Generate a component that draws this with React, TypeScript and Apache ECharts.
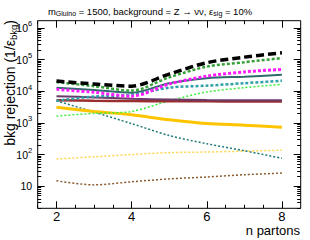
import React, { useEffect, useRef } from "react";
import * as echarts from "echarts";

const nPartons = [2, 3, 4, 5, 6, 7, 8];

const blackDashed = [2.1e4, 1.7e4, 1.45e4, 3.5e4, 8e4, 1.2e5, 1.65e5];
const greenDashed = [1.95e4, 1.45e4, 1.05e4, 2.75e4, 6e4, 8.3e4, 1.12e5];
const magentaDashed = [1.15e4, 9.3e3, 7e3, 1.7e4, 3e4, 4.1e4, 4.9e4];
const tealSolid = [1.3e4, 1.1e4, 9e3, 1.8e4, 2.6e4, 2.9e4, 3.3e4];
const tealDashed = [5e3, 6.8e3, 7.8e3, 1.3e4, 1.5e4, 1.8e4, 2.15e4];
const purpleSolid = [7e3, 6.4e3, 5.8e3, 5.5e3, 5.3e3, 5.2e3, 5.2e3];
const redSolid = [5.2e3, 5e3, 4.9e3, 4.8e3, 4.8e3, 4.75e3, 4.75e3];
const lightGreenDotted = [1.65e3, 2e3, 2.3e3, 5e3, 9.5e3, 1.3e4, 1.65e4];
const yellowSolid = [3.1e3, 2.3e3, 1.8e3, 1.25e3, 950, 850, 730];
const tealDotted = [5e3, 2.2e3, 950, 400, 220, 132, 76];
const yellowDotted = [72, 85, 100, 115, 120, 128, 137];
const brownDotted = [14.8, 11, 13.8, 17, 19.5, 23, 26];

const xMajorTicks = [2, 4, 6, 8];
const xMinorTicks = [1.5, 2.5, 3, 3.5, 4.5, 5, 5.5, 6.5, 7, 7.5];
const yMajorTicks = [10, 100, 1e3, 1e4, 1e5, 1e6];
const yMajorExponents = [1, 2, 3, 4, 5, 6];
const yMinorTicks: number[] = [];
[1, 10, 100, 1e3, 1e4, 1e5, 1e6].forEach((d) => {
  [2, 3, 4, 5, 6, 7, 8, 9].forEach((m) => yMinorTicks.push(d * m));
});

const X_MIN = 1.5;
const X_MAX = 8.5;
const Y_MIN = 2;
const Y_MAX = 1.7e6;

const FONT = "Liberation Sans, Arial, sans-serif";

export default function App() {
  const ref = useRef<HTMLDivElement>(null);
  useEffect(() => {
    if (!ref.current) return;
    const chart = echarts.init(ref.current, undefined, { renderer: "svg" });

    const mk = (
      data: number[],
      color: string,
      width: number,
      type: any,
      z = 2
    ) => ({
      type: "line",
      data: nPartons.map((x, i) => [x, data[i]]),
      showSymbol: false,
      smooth: 0.3,
      z,
      lineStyle: { color, width, type, cap: "butt" },
    });

    const xBase = (position: string, ticks: number[], len: number, labels: boolean) => ({
      type: "value",
      position,
      min: X_MIN,
      max: X_MAX,
      interval: 0.5,
      axisLine: { show: false },
      splitLine: { show: false },
      axisTick: {
        show: true,
        inside: true,
        length: len,
        customValues: ticks,
        lineStyle: { color: "#000", width: 1 },
      },
      axisLabel: labels
        ? {
            show: true,
            customValues: xMajorTicks,
            fontFamily: FONT,
            fontSize: 13,
            lineHeight: 12,
            color: "#000",
            margin: 2,
          }
        : { show: false },
    });

    const yBase = (position: string, ticks: number[], len: number, labels: boolean) => ({
      type: "log",
      logBase: 10,
      position,
      min: Y_MIN,
      max: Y_MAX,
      axisLine: { show: false },
      splitLine: { show: false },
      axisTick: {
        show: true,
        inside: true,
        length: len,
        customValues: ticks,
        lineStyle: { color: "#000", width: 1 },
      },
      axisLabel: labels
        ? {
            show: true,
            customValues: yMajorTicks,
            fontFamily: FONT,
            color: "#000",
            margin: 5.5,
            formatter: (v: number) => {
              const idx = yMajorTicks.findIndex((t) => Math.abs(t - v) / t < 1e-6);
              const e = yMajorExponents[idx];
              return e === 1 ? "{b|10}" : `{b|10}{s|${e}}`;
            },
            rich: {
              b: { fontSize: 10.5, fontFamily: FONT, color: "#000" },
              s: { fontSize: 7.5, fontFamily: FONT, color: "#000", padding: [0, 0, 8, 0] },
            },
          }
        : { show: false },
    });

    chart.setOption({
      animation: false,
      backgroundColor: "#fff",
      grid: {
        left: 37.7,
        right: 9.3,
        top: 20.7,
        bottom: 31.7,
        show: true,
        borderColor: "#000",
        borderWidth: 1,
        backgroundColor: "transparent",
      },
      xAxis: [
        xBase("bottom", xMajorTicks, 7, true),
        xBase("bottom", xMinorTicks, 3.5, false),
        xBase("top", xMajorTicks, 7, false),
        xBase("top", xMinorTicks, 3.5, false),
      ],
      yAxis: [
        yBase("left", yMajorTicks, 7, true),
        yBase("left", yMinorTicks, 3.5, false),
        yBase("right", yMajorTicks, 7, false),
        yBase("right", yMinorTicks, 3.5, false),
      ],
      series: [
        mk(brownDotted, "#8a5a2e", 1.5, [2, 2]),
        mk(yellowDotted, "#ffd54a", 1.5, [2, 2]),
        mk(tealDotted, "#1f7a7a", 1.5, [2, 2]),
        mk(yellowSolid, "#ffc400", 3, "solid"),
        mk(lightGreenDotted, "#3ef03e", 1.5, [2, 2]),
        mk(redSolid, "#9a2e2e", 2.5, "solid"),
        mk(purpleSolid, "#6b3a6b", 2, "solid"),
        mk(tealDashed, "#2fa0a8", 2.5, [3, 2]),
        mk(tealSolid, "#2e6a6a", 2, "solid"),
        mk(magentaDashed, "#ff1aff", 3, [3, 2]),
        mk(greenDashed, "#38a038", 2.5, [3, 2]),
        mk(blackDashed, "#000000", 3.5, [8, 4]),
      ],
      graphic: [
        {
          type: "text",
          x: 150,
          y: 11,
          style: {
            text: "m{sub|Gluino} = 1500, background = Z → νν, ε{sub|sig} = 10%",
            fontFamily: FONT,
            fontSize: 9.5,
            fill: "#000",
            align: "center",
            verticalAlign: "middle",
            rich: {
              sub: { fontSize: 7, fontFamily: FONT, fill: "#000", padding: [5, 0, 0, 0] },
            },
          },
        },
        {
          type: "text",
          x: 9.5,
          y: 20,
          rotation: Math.PI / 2,
          style: {
            text: "bkg rejection (1/ε{sub|bkg})",
            fontFamily: FONT,
            fontSize: 14,
            fill: "#000",
            align: "right",
            verticalAlign: "middle",
            rich: {
              sub: { fontSize: 9.5, fontFamily: FONT, fill: "#000", padding: [7, 0, 0, 0] },
            },
          },
        },
        {
          type: "text",
          x: 300,
          y: 230,
          style: {
            text: "n partons",
            fontFamily: FONT,
            fontSize: 13,
            fill: "#000",
            align: "right",
            verticalAlign: "middle",
          },
        },
      ],
    });
    return () => chart.dispose();
  }, []);
  return (
    <div
      ref={ref}
      style={{ position: "fixed", left: 0, top: 0, width: 310, height: 240, background: "#fff" }}
    />
  );
}
